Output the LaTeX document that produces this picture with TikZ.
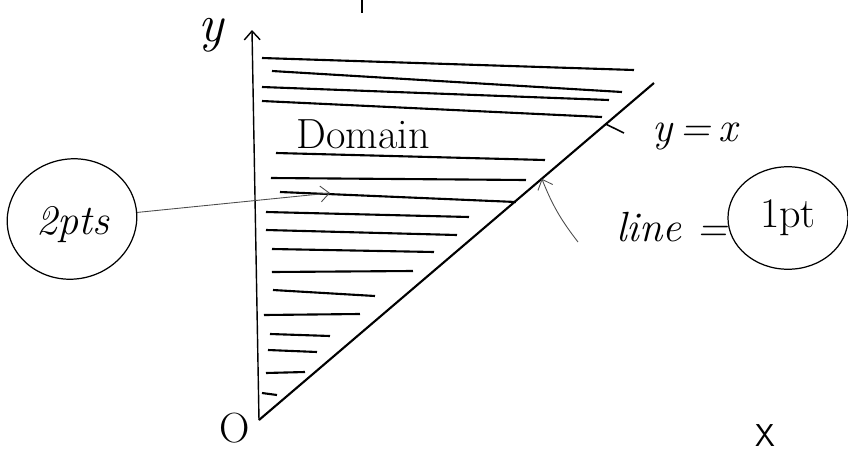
\documentclass[tikz,border=0pt]{standalone}
\usepackage{fontspec}
\usetikzlibrary{arrows.meta,shapes.geometric}

\tikzset{
  hand/.style={font=\fontsize{24}{28}\selectfont},
  hatch/.style={line width=1.2pt},
  leader/.style={line width=0.5pt, black!70},
  bubble/.style={draw, ellipse, line width=0.7pt, hand, inner sep=0pt}
}

\begin{document}
\begin{tikzpicture}[>={Straight Barb[length=5pt,width=9pt]}]
\useasboundingbox (-5.18,-0.68) rectangle (11.78,8.40);
\coordinate (o) at (0,0);
\coordinate (ytip) at (-0.14,7.80);
\coordinate (dtop) at (7.90,6.74);
\draw[line width=0.8pt, ->] (o) -- (ytip);
\draw[line width=1.2pt] (o) -- (dtop) coordinate[pos=0.878] (tk) coordinate[pos=0.716] (hit);
\draw[line width=1.4pt] (2.06,8.40) -- (2.06,8.14);

\draw[hatch] (0.06,7.24) -- (7.50,7.00);
\draw[hatch] (0.26,6.98) -- (7.26,6.56);
\draw[hatch] (0.06,6.66) -- (7.00,6.40);
\draw[hatch] (0.06,6.38) -- (6.86,6.06);
\draw[hatch] (0.34,5.34) -- (5.72,5.20);
\draw[hatch] (0.24,4.84) -- (5.34,4.80);
\draw[hatch] (0.42,4.56) -- (5.14,4.36);
\draw[hatch] (0.14,4.16) -- (4.20,4.06);
\draw[hatch] (0.14,3.80) -- (3.96,3.70);
\draw[hatch] (0.26,3.42) -- (3.50,3.36);
\draw[hatch] (0.26,2.96) -- (3.08,2.98);
\draw[hatch] (0.28,2.60) -- (2.32,2.48);
\draw[hatch] (0.10,2.10) -- (2.02,2.12);
\draw[hatch] (0.22,1.72) -- (1.42,1.68);
\draw[hatch] (0.18,1.40) -- (1.16,1.36);
\draw[hatch] (0.14,0.94) -- (0.92,0.96);
\draw[hatch] (0.06,0.54) -- (0.36,0.50);

\node[font=\fontsize{30}{34}\selectfont\itshape] (ylab) at (-0.96,7.70) {y};
\node[hand] (olab) at (-0.48,-0.16) {O};
\node[font=\fontsize{18}{22}\selectfont\sffamily] (xlab) at (10.12,-0.32) {X};
\node[hand, anchor=base] (dom) at (2.08,5.44) {Domain};
\node[hand] (eq) at (8.72,5.68) {\itshape y\,=\,x};
\coordinate (tkend) at (7.30,5.74);
\draw[line width=0.9pt] (tk) -- (tkend);

\node[bubble, minimum width=2.6cm, minimum height=2.4cm, rotate=12] (pts) at (-3.74,4.02) {};
\node[hand] (ptstxt) at (-3.72,3.90) {\itshape 2pts};
\coordinate (pa) at (1.42,4.54);
\draw[leader, ->] (pts) -- (pa);

\node[hand] (ln) at (8.26,3.86) {\itshape line =};
\node[bubble, minimum width=2.4cm, minimum height=2.05cm] (pt) at (10.58,4.04) {1pt};
\coordinate (lnarr) at (6.38,3.56);
\draw[leader, ->] (lnarr) to[bend left=8] (hit);
\end{tikzpicture}
\end{document}
